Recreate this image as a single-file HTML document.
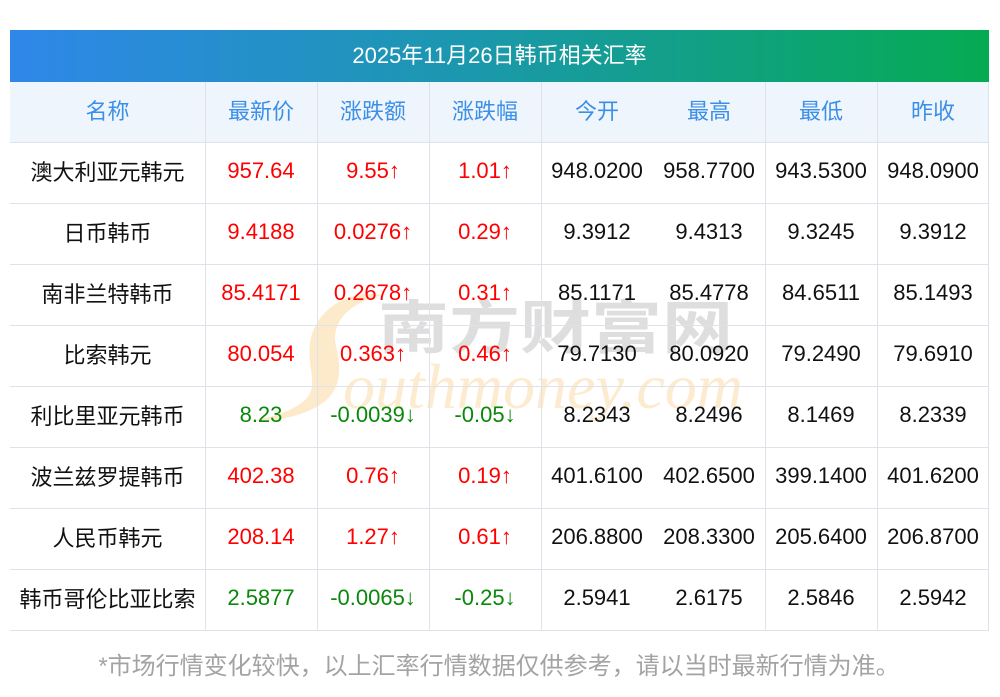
<!DOCTYPE html>
<html><head><meta charset="utf-8">
<style>
*{margin:0;padding:0;box-sizing:border-box}
body{width:1000px;height:697px;background:#fff;position:relative;overflow:hidden;font-family:"Liberation Sans","Noto Sans CJK SC",sans-serif}
.title{position:absolute;left:10px;top:30px;width:979px;height:52px;background:linear-gradient(90deg,#2f87ea 0%,#1c97b0 45%,#05ab52 100%);color:#fff;font-size:22px;line-height:52px;text-align:center}
.hdr{position:absolute;left:10px;top:82px;width:979px;height:60px;background:#eff5fd}
.c{position:absolute;height:61px;display:flex;align-items:center;justify-content:center;font-size:22px;white-space:nowrap;color:#111}
.h{color:#3b8fe6;height:60px}
.r{color:#f00}
.g{color:#0a880a}
.hl{position:absolute;left:10px;width:979px;height:1px;background:#dfe2ea}
.vl{position:absolute;width:1px;background:#dfe2ea}
.foot{position:absolute;left:4px;top:650px;width:990px;text-align:center;font-size:24px;color:#a3a3a3;line-height:34px}
svg{position:absolute;left:0;top:0}
</style></head><body>
<div class="title">2025年11月26日韩币相关汇率</div>
<div class="hdr"></div>
<svg width="1000" height="697">
<path d="M382 295 C350 289,318 308,311 338 C304 368,324 388,300 404 C285 414,266 418,250 421 C276 422,302 416,320 405 C343 390,341 366,336 346 C331 325,345 304,382 295 Z" fill="#fde6c2" opacity="0.85"/>
<text x="378" y="348" font-size="58" font-weight="bold" fill="#dedede" textLength="355" lengthAdjust="spacingAndGlyphs" font-family="Noto Sans CJK SC, sans-serif">南方财富网</text>
<text x="343" y="408" font-size="64" font-style="italic" fill="#fdebd0" textLength="400" lengthAdjust="spacingAndGlyphs" font-family="Liberation Serif, serif">outhmoney.com</text>
</svg>
<!-- horizontal lines -->
<div class="hl" style="top:142px"></div>
<div class="hl" style="top:203px"></div>
<div class="hl" style="top:264px"></div>
<div class="hl" style="top:325px"></div>
<div class="hl" style="top:386px"></div>
<div class="hl" style="top:447px"></div>
<div class="hl" style="top:508px"></div>
<div class="hl" style="top:569px"></div>
<div class="hl" style="top:630px"></div>
<!-- vertical lines -->
<div class="vl" style="left:205px;top:82px;height:548px"></div>
<div class="vl" style="left:317px;top:82px;height:548px"></div>
<div class="vl" style="left:429px;top:82px;height:548px"></div>
<div class="vl" style="left:541px;top:82px;height:548px"></div>
<div class="vl" style="left:765px;top:82px;height:548px"></div>
<div class="vl" style="left:877px;top:82px;height:548px"></div>
<div class="vl" style="left:988px;top:82px;height:548px"></div>

<!-- header -->
<div class="c h" style="left:10px;width:195px;top:80px">名称</div>
<div class="c h" style="left:205px;width:112px;top:80px">最新价</div>
<div class="c h" style="left:317px;width:112px;top:80px">涨跌额</div>
<div class="c h" style="left:429px;width:112px;top:80px">涨跌幅</div>
<div class="c h" style="left:541px;width:112px;top:80px">今开</div>
<div class="c h" style="left:653px;width:112px;top:80px">最高</div>
<div class="c h" style="left:765px;width:112px;top:80px">最低</div>
<div class="c h" style="left:877px;width:112px;top:80px">昨收</div>

<!-- row 1 -->
<div class="c" style="left:10px;width:195px;top:140px">澳大利亚元韩元</div>
<div class="c r" style="left:205px;width:112px;top:140px">957.64</div>
<div class="c r" style="left:317px;width:112px;top:140px">9.55↑</div>
<div class="c r" style="left:429px;width:112px;top:140px">1.01↑</div>
<div class="c" style="left:541px;width:112px;top:140px">948.0200</div>
<div class="c" style="left:653px;width:112px;top:140px">958.7700</div>
<div class="c" style="left:765px;width:112px;top:140px">943.5300</div>
<div class="c" style="left:877px;width:112px;top:140px">948.0900</div>
<!-- row 2 -->
<div class="c" style="left:10px;width:195px;top:201px">日币韩币</div>
<div class="c r" style="left:205px;width:112px;top:201px">9.4188</div>
<div class="c r" style="left:317px;width:112px;top:201px">0.0276↑</div>
<div class="c r" style="left:429px;width:112px;top:201px">0.29↑</div>
<div class="c" style="left:541px;width:112px;top:201px">9.3912</div>
<div class="c" style="left:653px;width:112px;top:201px">9.4313</div>
<div class="c" style="left:765px;width:112px;top:201px">9.3245</div>
<div class="c" style="left:877px;width:112px;top:201px">9.3912</div>
<!-- row 3 -->
<div class="c" style="left:10px;width:195px;top:262px">南非兰特韩币</div>
<div class="c r" style="left:205px;width:112px;top:262px">85.4171</div>
<div class="c r" style="left:317px;width:112px;top:262px">0.2678↑</div>
<div class="c r" style="left:429px;width:112px;top:262px">0.31↑</div>
<div class="c" style="left:541px;width:112px;top:262px">85.1171</div>
<div class="c" style="left:653px;width:112px;top:262px">85.4778</div>
<div class="c" style="left:765px;width:112px;top:262px">84.6511</div>
<div class="c" style="left:877px;width:112px;top:262px">85.1493</div>
<!-- row 4 -->
<div class="c" style="left:10px;width:195px;top:323px">比索韩元</div>
<div class="c r" style="left:205px;width:112px;top:323px">80.054</div>
<div class="c r" style="left:317px;width:112px;top:323px">0.363↑</div>
<div class="c r" style="left:429px;width:112px;top:323px">0.46↑</div>
<div class="c" style="left:541px;width:112px;top:323px">79.7130</div>
<div class="c" style="left:653px;width:112px;top:323px">80.0920</div>
<div class="c" style="left:765px;width:112px;top:323px">79.2490</div>
<div class="c" style="left:877px;width:112px;top:323px">79.6910</div>
<!-- row 5 -->
<div class="c" style="left:10px;width:195px;top:384px">利比里亚元韩币</div>
<div class="c g" style="left:205px;width:112px;top:384px">8.23</div>
<div class="c g" style="left:317px;width:112px;top:384px">-0.0039↓</div>
<div class="c g" style="left:429px;width:112px;top:384px">-0.05↓</div>
<div class="c" style="left:541px;width:112px;top:384px">8.2343</div>
<div class="c" style="left:653px;width:112px;top:384px">8.2496</div>
<div class="c" style="left:765px;width:112px;top:384px">8.1469</div>
<div class="c" style="left:877px;width:112px;top:384px">8.2339</div>
<!-- row 6 -->
<div class="c" style="left:10px;width:195px;top:445px">波兰兹罗提韩币</div>
<div class="c r" style="left:205px;width:112px;top:445px">402.38</div>
<div class="c r" style="left:317px;width:112px;top:445px">0.76↑</div>
<div class="c r" style="left:429px;width:112px;top:445px">0.19↑</div>
<div class="c" style="left:541px;width:112px;top:445px">401.6100</div>
<div class="c" style="left:653px;width:112px;top:445px">402.6500</div>
<div class="c" style="left:765px;width:112px;top:445px">399.1400</div>
<div class="c" style="left:877px;width:112px;top:445px">401.6200</div>
<!-- row 7 -->
<div class="c" style="left:10px;width:195px;top:506px">人民币韩元</div>
<div class="c r" style="left:205px;width:112px;top:506px">208.14</div>
<div class="c r" style="left:317px;width:112px;top:506px">1.27↑</div>
<div class="c r" style="left:429px;width:112px;top:506px">0.61↑</div>
<div class="c" style="left:541px;width:112px;top:506px">206.8800</div>
<div class="c" style="left:653px;width:112px;top:506px">208.3300</div>
<div class="c" style="left:765px;width:112px;top:506px">205.6400</div>
<div class="c" style="left:877px;width:112px;top:506px">206.8700</div>
<!-- row 8 -->
<div class="c" style="left:10px;width:195px;top:567px">韩币哥伦比亚比索</div>
<div class="c g" style="left:205px;width:112px;top:567px">2.5877</div>
<div class="c g" style="left:317px;width:112px;top:567px">-0.0065↓</div>
<div class="c g" style="left:429px;width:112px;top:567px">-0.25↓</div>
<div class="c" style="left:541px;width:112px;top:567px">2.5941</div>
<div class="c" style="left:653px;width:112px;top:567px">2.6175</div>
<div class="c" style="left:765px;width:112px;top:567px">2.5846</div>
<div class="c" style="left:877px;width:112px;top:567px">2.5942</div>

<div class="foot">*市场行情变化较快，以上汇率行情数据仅供参考，请以当时最新行情为准。</div>
</body></html>
